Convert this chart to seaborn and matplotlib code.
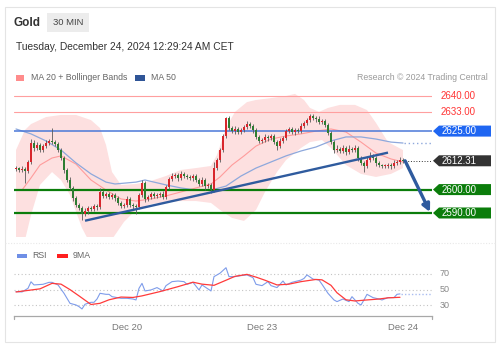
import numpy as np
import matplotlib
matplotlib.use("Agg")
import matplotlib.pyplot as plt
from matplotlib.patches import Polygon, Rectangle
from matplotlib.lines import Line2D
import seaborn as sns

sns.set_style("white")
plt.rcParams['font.family'] = ['Liberation Sans', 'DejaVu Sans']

# ---- Gold 30-minute candles (bar index 0..129) ----
first_open = 2608.8
close = [
    2609.2, 2608.4, 2609.0, 2608.0, 2611.8, 2620.0, 2617.8, 2619.0, 2617.0, 2618.6,
    2620.0, 2620.8, 2620.3, 2619.5, 2617.0, 2613.5, 2608.4, 2604.1, 2600.7, 2596.4,
    2593.4, 2592.1, 2589.6, 2590.9, 2592.1, 2591.7, 2593.0, 2592.6, 2599.0, 2597.3,
    2598.1, 2596.8, 2597.7, 2596.4, 2594.3, 2593.0, 2593.4, 2596.0, 2593.4, 2593.0,
    2592.6, 2597.7, 2602.8, 2596.0, 2596.8, 2598.1, 2597.3, 2597.7, 2598.1, 2596.8,
    2601.1, 2604.5, 2605.8, 2606.2, 2605.0, 2606.7, 2605.8, 2605.4, 2605.0, 2605.8,
    2604.1, 2602.4, 2604.1, 2601.5, 2602.0, 2599.8, 2609.2, 2612.6, 2616.9, 2622.9,
    2630.6, 2626.3, 2625.0, 2625.8, 2624.6, 2625.5, 2626.8, 2628.0, 2627.2, 2625.5,
    2622.5, 2620.8, 2621.2, 2622.5, 2622.1, 2622.9, 2620.3, 2618.6, 2620.8, 2622.1,
    2625.0, 2625.8, 2624.6, 2625.5, 2625.0, 2627.2, 2628.5, 2629.7, 2631.5, 2630.6,
    2630.2, 2628.9, 2629.3, 2627.6, 2624.2, 2620.3, 2616.9, 2617.4, 2616.5, 2617.8,
    2616.1, 2617.4, 2616.9, 2617.8, 2613.5, 2611.4, 2610.1, 2612.6, 2614.4, 2613.5,
    2611.4, 2610.5, 2610.1, 2610.1, 2610.5, 2610.1, 2611.4, 2611.8, 2612.7, 2612.31,
]
wick_up = [
    0.8, 0.6, 1.0, 0.8, 0.8, 1.5, 1.0, 1.2, 0.8, 1.0, 1.2, 0.8, 5.5,
    1.0, 0.8, 0.8, 1.0, 0.8, 1.2, 0.8, 1.0, 0.8, 1.0, 1.2, 0.8, 0.8,
    1.0, 0.8, 1.5, 1.0, 1.0, 0.8, 1.0, 0.8, 0.8, 1.0, 0.8, 1.2, 0.8,
    1.0, 0.8, 1.0, 1.2, 0.8, 1.0, 0.8, 1.0, 1.0, 0.8, 1.2, 1.0, 1.0,
    1.2, 1.0, 0.8, 1.2, 0.8, 1.0, 0.8, 1.0, 1.0, 0.8, 1.2, 0.8, 1.0,
    0.8, 2.5, 1.0, 1.0, 1.0, 0.6, 0.8, 1.0, 1.2, 0.8, 1.0, 0.8, 1.2,
    1.0, 0.8, 1.0, 0.8, 1.0, 1.2, 0.8, 1.0, 0.8, 1.0, 1.2, 0.8, 1.0,
    1.0, 0.8, 1.0, 0.8, 1.2, 1.0, 1.0, 0.8, 1.0, 0.8, 1.2, 0.8, 1.0,
    0.8, 1.0, 0.8, 1.5, 1.0, 1.2, 0.8, 1.5, 1.0, 1.2, 0.8, 1.0, 0.8,
    1.2, 1.5, 1.0, 0.8, 1.0, 0.6, 0.8, 1.0, 0.8, 1.2, 1.0, 1.2, 1.0,
]
wick_dn = [
    0.8, 1.0, 0.8, 5.0, 0.8, 1.0, 1.2, 0.8, 1.0, 0.8, 1.0, 0.8, 1.0,
    0.8, 1.0, 1.0, 1.2, 1.0, 1.0, 1.2, 1.0, 0.8, 2.6, 1.0, 1.2, 0.8,
    1.0, 1.2, 0.8, 1.0, 0.8, 1.0, 0.8, 1.2, 1.0, 0.8, 1.0, 0.8, 1.0,
    1.2, 3.0, 0.8, 1.0, 1.2, 0.8, 1.0, 0.8, 1.0, 0.8, 1.0, 0.8, 1.0,
    0.8, 1.0, 1.2, 0.8, 1.0, 0.8, 1.0, 1.2, 0.8, 1.0, 0.8, 1.5, 1.0,
    1.2, 0.8, 1.0, 1.0, 0.8, 0.8, 1.0, 0.8, 1.2, 1.0, 0.8, 1.0, 0.8,
    1.0, 1.2, 1.0, 1.0, 0.8, 1.0, 1.2, 0.8, 1.0, 1.7, 1.0, 0.8, 1.0,
    0.8, 1.0, 1.2, 0.8, 1.0, 0.8, 1.0, 0.8, 1.0, 1.2, 0.8, 1.0, 0.8,
    1.0, 1.0, 1.2, 0.8, 1.0, 0.8, 1.2, 1.0, 0.8, 1.0, 1.2, 1.0, 2.6,
    0.8, 1.0, 1.0, 1.2, 0.8, 1.0, 0.8, 1.0, 1.5, 0.8, 1.0, 0.8, 0.8,
]

# ---- Bollinger bands, MA 20, MA 50 ----
bb_up_bar = [0, 3, 5, 10, 15, 20, 25, 28, 30, 32, 35, 40, 45, 50, 55, 60, 65, 67, 70, 73,
             77, 80, 85, 90, 93, 96, 98, 101, 104, 108, 113, 117, 120, 124, 129]
bb_up = [2616.9, 2625.5, 2628.0, 2631.0, 2631.9, 2631.9, 2629.7, 2626.3, 2619.1, 2607.5,
         2602.0, 2602.4, 2603.7, 2605.8, 2608.4, 2609.2, 2610.1, 2614.8, 2626.3, 2633.2,
         2637.4, 2638.3, 2639.1, 2640.0, 2640.9, 2638.3, 2634.9, 2633.2, 2634.9, 2636.2,
         2636.2, 2634.0, 2628.5, 2620.3, 2616.9]
bb_dn_bar = [0, 3, 5, 8, 12, 15, 18, 22, 25, 30, 33, 36, 40, 45, 50, 55, 60, 65, 68, 72,
             76, 80, 83, 87, 90, 95, 98, 102, 105, 110, 115, 120, 125, 129]
bb_dn = [2576.3, 2578.5, 2589.1, 2602.0, 2607.5, 2604.1, 2597.7, 2583.6, 2576.3, 2575.0,
         2580.6, 2586.2, 2591.3, 2593.8, 2594.7, 2595.1, 2595.1, 2594.3, 2591.3, 2587.9,
         2586.6, 2591.3, 2599.0, 2607.5, 2612.6, 2617.8, 2620.3, 2621.2, 2617.8, 2610.5,
         2606.7, 2605.4, 2606.7, 2609.2]
ma20_bar = [2, 5, 8, 12, 15, 20, 25, 30, 35, 40, 45, 50, 55, 60, 65, 68, 72, 76, 80, 85,
            90, 95, 100, 105, 110, 115, 120, 125, 129]
ma20 = [2599.8, 2605.0, 2610.5, 2613.5, 2614.4, 2610.9, 2604.1, 2599.8, 2596.0, 2595.1,
        2596.0, 2597.3, 2599.0, 2600.7, 2602.4, 2605.4, 2610.5, 2614.4, 2618.6, 2621.6,
        2622.9, 2623.8, 2625.0, 2625.9, 2624.6, 2620.3, 2615.6, 2613.1, 2611.8]
ma50_bar = [0, 5, 10, 15, 20, 25, 30, 33, 40, 43, 50, 55, 60, 65, 70, 75, 80, 85, 90, 95,
            100, 105, 110, 115, 120, 125, 129]
ma50 = [2625.9, 2623.8, 2620.8, 2616.9, 2611.4, 2606.7, 2603.2, 2602.4, 2603.2, 2604.1,
        2602.0, 2600.7, 2599.8, 2599.8, 2601.5, 2605.8, 2609.2, 2611.8, 2614.4, 2616.5,
        2618.2, 2620.8, 2622.5, 2622.5, 2621.6, 2620.3, 2619.9]

# ---- levels ----
resist_levels = [2640.0, 2633.0]
pivot_level = 2625.0
last_price = 2612.31
support_levels = [2600.0, 2590.0]
trend_bar = [23, 124]
trend_price = [2586.7, 2615.8]
target_bar = [129.7, 138.0]
target_price = [2612.3, 2590.4]

# ---- RSI and its 9-period average ----
rsi_bar = [0, 2, 4, 5, 6, 9, 11, 12, 14, 16, 17, 18, 20, 21, 22, 23, 25, 26, 27, 28,
           30, 31, 32, 35, 37, 39, 40, 41, 42, 43, 45, 47, 49, 50, 52, 54, 56, 57, 59, 61,
           62, 65, 66, 68, 70, 71, 73, 75, 77, 79, 80, 82, 84, 85, 87, 89, 90, 92, 95, 96,
           97, 99, 101, 102, 104, 106, 107, 109, 111, 112, 114, 115, 116, 117, 119, 121, 122, 124, 126, 127,
           128]
rsi = [47.5, 47.0, 51.7, 60.0, 56.0, 56.8, 59.3, 59.3, 56.0, 45.3, 38.9, 32.5, 30.4, 28.3, 25.3, 31.3, 33.8, 33.8, 38.0, 45.3,
       44.0, 44.0, 41.0, 38.9, 38.9, 38.0, 36.8, 51.7, 58.0, 48.3, 49.6, 52.6, 48.3, 55.1, 60.2, 61.0, 60.2, 56.8, 59.3, 49.6,
       56.0, 48.3, 66.6, 71.0, 78.0, 66.6, 66.6, 67.9, 68.8, 65.3, 56.8, 55.1, 60.2, 55.1, 52.6, 61.0, 56.0, 59.3, 62.2, 64.3,
       68.8, 63.5, 62.2, 56.8, 45.3, 36.8, 34.7, 38.0, 34.7, 41.0, 32.5, 30.4, 36.8, 44.0, 39.8, 38.0, 36.8, 39.8, 39.8, 44.0,
       44.5]
ma9_bar = [0, 8, 12, 15, 18, 21, 25, 28, 31, 35, 39, 42, 48, 54, 59, 62, 66, 70, 73, 77,
           80, 83, 87, 91, 95, 100, 102, 105, 107, 110, 113, 116, 121, 124, 128]
ma9 = [47.0, 51.0, 58.0, 57.0, 50.0, 42.0, 31.0, 32.5, 37.0, 40.5, 40.0, 42.0, 47.5, 53.8, 59.5, 57.0, 55.5, 62.0, 67.0, 69.5,
       66.0, 62.0, 56.0, 57.0, 60.2, 63.0, 62.5, 55.5, 46.0, 37.0, 35.5, 36.5, 38.0, 39.5, 40.2]
rsi_levels = [30, 50, 70]
tick_bar = [37, 82, 129]
tick_text = ["Dec 20", "Dec 23", "Dec 24"]

# ---- colours ----
C_UP, C_DN, C_WICK = "#d8262c", "#2e7d32", "#5a5a5a"
C_BAND, C_MA20, C_MA50 = "#fde0e0", "#ff9c9c", "#8ea8dc"
C_RES, C_PIV, C_SUP = "#ff9f9f", "#4a78d8", "#0b7d0b"
C_TREND = "#2f5b9e"

W, H = 502, 350
fig = plt.figure(figsize=(W / 100, H / 100), dpi=100)
fig.patch.set_facecolor("white")


def fx(px):
    return px / W


def fy(py):
    return 1 - py / H


# card frame and header
fig.add_artist(Rectangle((fx(5), fy(342)), fx(495) - fx(5), fy(7) - fy(342),
                         transform=fig.transFigure, fill=False, ec="#e4e4e4", lw=0.8))
fig.add_artist(Line2D([fx(5), fx(495)], [fy(243), fy(243)], transform=fig.transFigure,
                      color="#e8e8e8", lw=0.8, ls=(0, (1, 1.5))))
fig.text(fx(14), fy(22.5), "Gold", fontsize=8.5, fontweight="bold", color="#333333", va="center")
fig.add_artist(Rectangle((fx(47), fy(32)), fx(89) - fx(47), fy(13) - fy(32),
                         transform=fig.transFigure, fc="#ececec", ec="none"))
fig.text(fx(68), fy(22.5), "30 MIN", fontsize=6.8, color="#444444", va="center", ha="center")
fig.text(fx(16), fy(47), "Tuesday, December 24, 2024 12:29:24 AM CET", fontsize=7.4,
         color="#333333", va="center")

# legend rows
fig.add_artist(Rectangle((fx(16), fy(81)), fx(8), fy(75) - fy(81), transform=fig.transFigure,
                         fc="#ff8c8c", ec="none"))
fig.text(fx(31), fy(78), "MA 20 + Bollinger Bands", fontsize=6.3, color="#666666", va="center")
fig.add_artist(Rectangle((fx(135), fy(81)), fx(10), fy(75) - fy(81), transform=fig.transFigure,
                         fc="#2f5597", ec="none"))
fig.text(fx(151), fy(78), "MA 50", fontsize=6.3, color="#666666", va="center")
fig.text(fx(488), fy(78), "Research \u00a9 2024 Trading Central", fontsize=6.3, color="#9a9a9a",
         va="center", ha="right")

fig.add_artist(Rectangle((fx(17), fy(258)), fx(10), fy(254) - fy(258), transform=fig.transFigure,
                         fc="#6f8fe6", ec="none"))
fig.text(fx(32), fy(256), "RSI", fontsize=6.3, color="#666666", va="center")
fig.add_artist(Rectangle((fx(57), fy(258)), fx(11), fy(254) - fy(258), transform=fig.transFigure,
                         fc="#ff1f1f", ec="none"))
fig.text(fx(73), fy(256), "9MA", fontsize=6.3, color="#666666", va="center")

# ---- price panel ----
ax = fig.add_axes([fx(14), fy(237), fx(432) - fx(14), fy(86) - fy(237)])
ax.set_xlim(-0.67, 138.67)
ax.set_ylim(2579.74, 2644.27)
ax.axis("off")

ax.fill(np.r_[bb_up_bar, bb_dn_bar[::-1]], np.r_[bb_up, bb_dn[::-1]],
        color=C_BAND, lw=0, zorder=1)
sns.lineplot(x=ma20_bar, y=ma20, ax=ax, color=C_MA20, lw=0.8, zorder=2)
sns.lineplot(x=ma50_bar, y=ma50, ax=ax, color=C_MA50, lw=0.9, zorder=2)
ax.plot([ma50_bar[-1] + 0.5, 138.67], [ma50[-1]] * 2, color=C_MA50, lw=1.0, ls=(0, (1, 2)),
        zorder=2, clip_on=False)

for lv in resist_levels:
    ax.axhline(lv, color=C_RES, lw=0.8, zorder=3)
ax.axhline(pivot_level, color=C_PIV, lw=1.1, zorder=3)
for lv in support_levels:
    ax.axhline(lv, color=C_SUP, lw=1.6, zorder=3)

# candles
close_a = np.array(close)
open_a = np.r_[first_open, close_a[:-1]]
idx = np.arange(len(close_a))
top = np.maximum(open_a, close_a)
bot = np.minimum(open_a, close_a)
ax.vlines(idx, bot - np.array(wick_dn), top + np.array(wick_up), color=C_WICK, lw=0.6, zorder=4)
colors = np.where(close_a >= open_a, C_UP, C_DN)
ax.bar(idx, np.maximum(top - bot, 0.3), bottom=bot, width=0.72, color=colors, lw=0, zorder=5)

ax.plot(trend_bar, trend_price, color=C_TREND, lw=1.7, zorder=6, solid_capstyle="butt")
ax.plot([idx[-1] + 0.6, 138.67], [last_price] * 2, color="#333333", lw=0.7, ls=(0, (1, 1.8)),
        zorder=6, clip_on=False)
ax.annotate("", xy=(target_bar[1], target_price[1]), xytext=(target_bar[0], target_price[0]),
            arrowprops=dict(arrowstyle="-|>", color=C_TREND, lw=2.4, mutation_scale=11,
                            shrinkA=0, shrinkB=0), zorder=7, annotation_clip=False)

# price tags on the right
inv = fig.transFigure.inverted()
x_tip = ax.get_position().x1 * W + 1


def tag(value, text, fc):
    y = ax.transData.transform((0, value))[1]
    pts = [(x_tip, y), (x_tip + 6, y + 5.5), (x_tip + 58, y + 5.5),
           (x_tip + 58, y - 5.5), (x_tip + 6, y - 5.5)]
    fig.add_artist(Polygon(inv.transform(pts), closed=True, transform=fig.transFigure,
                           fc=fc, ec="none"))
    tx, ty = inv.transform((x_tip + 9, y))
    fig.text(tx, ty, text, fontsize=7, color="white", va="center", ha="left")


for lv in resist_levels:
    y = ax.transData.transform((0, lv))[1]
    tx, ty = inv.transform((x_tip + 8, y))
    fig.text(tx, ty, f"{lv:.2f}", fontsize=7, color="#ff3535", va="center", ha="left")
tag(pivot_level, f"{pivot_level:.2f}", "#1f66f2")
tag(last_price, f"{last_price:.2f}", "#333333")
for lv in support_levels:
    tag(lv, f"{lv:.2f}", "#0b7d0b")

# ---- RSI panel ----
ax2 = fig.add_axes([fx(14), fy(316), fx(432) - fx(14), fy(262) - fy(316)])
ax2.set_xlim(-0.67, 138.67)
ax2.set_ylim(16.3, 85.3)
for lv in rsi_levels:
    ax2.axhline(lv, color="#c4c4c4", lw=0.8, ls=(0, (1, 2.2)), zorder=1)
    y = ax2.transData.transform((0, lv))[1]
    tx, ty = inv.transform((x_tip + 7, y))
    fig.text(tx, ty, str(lv), fontsize=6.5, color="#888888", va="center", ha="left")
sns.lineplot(x=rsi_bar, y=rsi, ax=ax2, color="#7e9cea", lw=0.8, zorder=3)
sns.lineplot(x=ma9_bar, y=ma9, ax=ax2, color="#ff3a3a", lw=0.9, zorder=4)
ax2.plot([rsi_bar[-1] + 0.5, 138.67], [rsi[-1]] * 2, color="#a9bcf0", lw=1.0,
         ls=(0, (1, 1.5)), zorder=2, clip_on=False)

for s in ["top", "left", "right"]:
    ax2.spines[s].set_visible(False)
ax2.spines["bottom"].set_color("#a8a8a8")
ax2.spines["bottom"].set_linewidth(0.9)
for xa in (0, 1):
    ax2.plot([xa, xa], [0, -0.06], transform=ax2.transAxes, color="#a8a8a8", lw=0.9,
             clip_on=False)
ax2.set_yticks([])
ax2.set_xticks(tick_bar)
ax2.set_xticklabels(tick_text, fontsize=6.8, color="#777777")
ax2.tick_params(axis="x", length=0, pad=5)
ax2.set_xlabel("")
ax2.set_ylabel("")
ax.set_xlabel("")
ax.set_ylabel("")

fig.savefig("out.png", dpi=100, facecolor="white")
